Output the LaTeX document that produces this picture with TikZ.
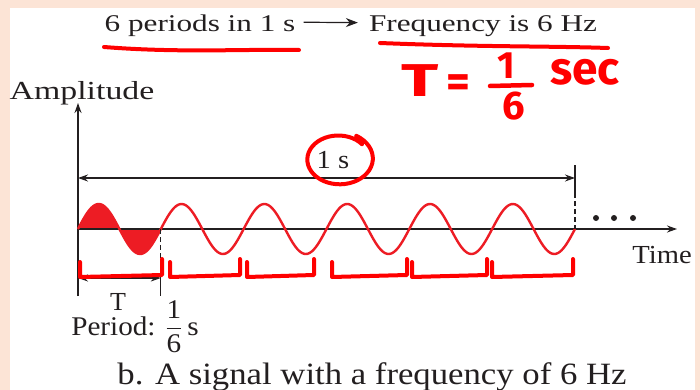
\documentclass[tikz,border=0pt]{standalone}
\usepackage{fontspec}
\usepackage{amsmath}
\setmainfont{Liberation Serif}
\newfontfamily\mainlevee{Fira Sans}
\usetikzlibrary{arrows.meta}

\definecolor{peche}{HTML}{FCE4D6}
\definecolor{onde}{HTML}{ED1C24}
\definecolor{encre}{HTML}{231F20}
\definecolor{feutre}{HTML}{FF0000}

\newcommand{\etire}[2][1.2]{\scalebox{#1}[1]{#2}}

\tikzset{
  axe/.style={encre, line width=1.3pt, -{Stealth[length=10pt,width=7pt]}},
  bifleche/.style={encre, line width=1.1pt, {Stealth[length=10pt,width=7pt]}-{Stealth[length=10pt,width=7pt]}},
  trait/.style={encre, line width=1.3pt},
  annot/.style={feutre, line width=4pt, line cap=round, line join=round},
  manus/.style={feutre, inner sep=0pt, font=\mainlevee\bfseries\fontsize{46}{46}\selectfont},
  txt/.style={encre, inner sep=0pt, anchor=base, font=\fontsize{26}{30}\selectfont}
}

\begin{document}
\begin{tikzpicture}[x=1pt,y=-1pt]

% Fond
\useasboundingbox (0,0) rectangle (700,390);
\fill[peche] (0,0) rectangle (700,390);
\fill[white] (10,8) rectangle (695,390);

% Titre
\node[txt, font=\fontsize{24}{28}\selectfont] (periodes) at (200,32) {\etire[1.3]{6 periods in 1 s}};
\node[txt, font=\fontsize{24}{28}\selectfont] (freq) at (483,32) {\etire[1.3]{Frequency is 6 Hz}};
\draw[axe, line width=1.2pt, -{Stealth[length=12pt,width=9pt]}] ([xshift=8pt,yshift=4pt]periodes.east) -- ([xshift=-11pt,yshift=4pt]freq.west);

% Signal
\fill[onde] (78,229) -- plot[domain=78:160.83, samples=60] (\x,{229-25*sin(4.3463*(\x-78))}) -- cycle;

% Axes
\coordinate (O) at (78,229);
\coordinate (haut) at (78,103);
\coordinate (bas) at (78,296);
\coordinate (fin) at (677,229);
\draw[axe] (bas) -- (haut);
\draw[axe] (O) -- (fin);

\draw[onde, line width=2.4pt] plot[domain=78:575, samples=300, smooth] (\x,{229-25*sin(4.3463*(\x-78))});

\node[txt] (ampl) at (82,100) {\etire[1.3]{Amplitude}};
\node[txt] (temps) at (662,263) {\etire[1.1]{Time}};

\foreach \x in {596,614,633}
{
    \fill[encre] (\x,218) circle (3);
}

% Une seconde
\coordinate (sg) at (78,178);
\coordinate (sd) at (575,178);
\draw[bifleche] (sg) -- (sd);
\node[txt] (unes) at (333,168) {\etire[1.1]{1 s}};

\coordinate (v1) at (575,165);
\coordinate (v2) at (575,193);
\coordinate (v3) at (575,229);
\draw[trait] (v1) -- (v2);
\draw[trait, dash pattern=on 5pt off 3pt] (v2) -- (v3);

% Periode
\coordinate (p1) at (160.8,229);
\coordinate (p2) at (160.8,281);
\coordinate (p3) at (160.8,296);
\draw[trait, dash pattern=on 5pt off 3pt] (p1) -- (p2);
\draw[trait] (p2) -- (p3);

\coordinate (tg) at (78,278);
\coordinate (td) at (160.8,278);
\draw[bifleche] (tg) -- (td);

\node[txt] (T) at (118,310) {T};
\node[txt, font=\fontsize{27}{30}\selectfont] (periode) at (135,335) {\etire[1.08]{Period: $\dfrac{\text{1}}{\text{6}}$\,s}};

% Legende
\node[txt, font=\fontsize{31}{34}\selectfont] (legende) at (372,384) {\etire[1.12]{b. A signal with a frequency of 6 Hz}};

% Annotations
\draw[annot] (104,47) .. controls (180,53) and (240,49) .. (299,50);
\draw[annot] (380,43) .. controls (480,47) and (550,46) .. (608,48);

\node[manus] (tT) at (420,81) {\etire[1.5]{T}};
\node[manus] (egal) at (458,86) {=};
\node[manus, font=\mainlevee\bfseries\fontsize{38}{38}\selectfont] (un) at (506,66) {1};
\draw[annot, line width=4.5pt] (490,86) -- (532,85);
\node[manus, font=\mainlevee\bfseries\fontsize{40}{40}\selectfont] (six) at (514,106) {6};
\node[manus] (sec) at (585,72) {sec};

\draw[annot] plot[smooth, domain=40:420, samples=50] ({339+(30+0.012*(\x-40))*cos(\x)},{159-(23+0.01*(\x-40))*sin(\x)});

\foreach \a/\b in {80/162, 170/240, 247/314, 332/407, 412/487, 492/573}
{
    \draw[annot] (\a,262) -- (\a,277) -- (\b,275) -- (\b,259);
}

\end{tikzpicture}
\end{document}
